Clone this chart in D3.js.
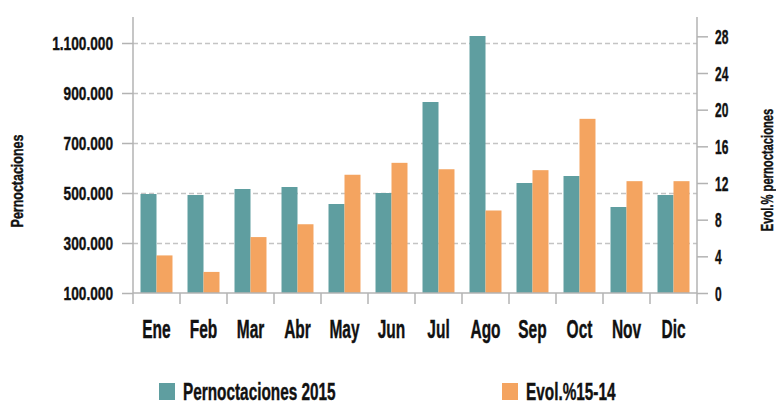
<!DOCTYPE html>
<html>
<head>
<meta charset="utf-8">
<script src="https://cdn.jsdelivr.net/npm/d3@7"></script>
<style>
  body { margin: 0; background: #fff; }
  svg text { font-family: "Liberation Sans", sans-serif; font-weight: bold; fill: #111; stroke: #111; stroke-width: 0.4px; }
</style>
</head>
<body>
<div id="chart"></div>
<script>
const months = ['Ene', 'Feb', 'Mar', 'Abr', 'May', 'Jun', 'Jul', 'Ago', 'Sep', 'Oct', 'Nov', 'Dic'];
const pernoctaciones = [496000, 492000, 516000, 524000, 456000, 500000, 864000, 1128000, 540000, 568000, 444000, 492000];
const evolucion = [4.1, 2.3, 6.1, 7.5, 12.9, 14.2, 13.5, 9.0, 13.4, 19.0, 12.2, 12.2];
const leftTicks = [100000, 300000, 500000, 700000, 900000, 1100000];
const rightTicks = [0, 4, 8, 12, 16, 20, 24, 28];
const seriesNames = ['Pernoctaciones 2015', 'Evol.%15-14'];

const width = 776
    , height = 403
    , margin = {left: 133, right: 79, top: 18, bottom: 110}
    , tealColor = '#5f9ea0'
    , orangeColor = '#f4a460'
    , axisColor = '#b3b3b3'
    , gridColor = '#c4c4c4'
    , tickLen = 11
    ;

const svg = d3.select('#chart')
  .append('svg')
  .attr('width', width)
  .attr('height', height);

const plotW = width - margin.left - margin.right
    , plotH = height - margin.top - margin.bottom
    , bottom = margin.top + plotH
    ;

const x = d3.scaleBand()
  .domain(months)
  .range([margin.left, margin.left + plotW])
  .padding(0);

const xs = d3.scaleBand()
  .domain(['p', 'e'])
  .range([0, x.bandwidth()])
  .paddingInner(0)
  .paddingOuter(0.47);

const yL = d3.scaleLinear().domain([100000, 1200000]).range([bottom, margin.top]);
const yR = d3.scaleLinear().domain([0, 30]).range([bottom, margin.top]);

const fmt = d => d3.format(',')(d).replace(/,/g, '.');

// condensed look: no narrow face installed, so squash horizontally
function squeeze(sel, sx) {
  sel.each(function() {
    const t = d3.select(this);
    const tx = +t.attr('x') || 0, ty = +t.attr('y') || 0;
    t.attr('x', null).attr('y', null)
      .attr('transform', `translate(${tx},${ty}) scale(${sx},1)`);
  });
}

// grid
svg.append('g')
  .selectAll('line')
  .data(leftTicks.slice(1))
  .join('line')
    .attr('x1', margin.left)
    .attr('x2', margin.left + plotW)
    .attr('y1', d => Math.round(yL(d)) + 0.5)
    .attr('y2', d => Math.round(yL(d)) + 0.5)
    .attr('stroke', gridColor)
    .attr('stroke-width', 1.5)
    .attr('stroke-dasharray', '5,3');

// bars
const groups = svg.append('g')
  .selectAll('g')
  .data(months)
  .join('g')
    .attr('transform', d => `translate(${x(d)},0)`);

groups.append('rect')
  .attr('x', xs('p'))
  .attr('width', xs.bandwidth())
  .attr('y', (d, i) => yL(pernoctaciones[i]))
  .attr('height', (d, i) => bottom - yL(pernoctaciones[i]))
  .attr('fill', tealColor);

groups.append('rect')
  .attr('x', xs('e'))
  .attr('width', xs.bandwidth())
  .attr('y', (d, i) => yR(evolucion[i]))
  .attr('height', (d, i) => bottom - yR(evolucion[i]))
  .attr('fill', orangeColor);

// left axis
const gL = svg.append('g')
  .attr('transform', `translate(${margin.left},0)`)
  .call(d3.axisLeft(yL).tickValues(leftTicks).tickFormat(fmt).tickSize(tickLen).tickSizeOuter(0));
gL.select('.domain').remove();
gL.selectAll('.tick line').attr('stroke', axisColor).attr('stroke-width', 1.5);
gL.selectAll('.tick text')
  .attr('x', -20).attr('dy', '0.36em')
  .style('font-size', '19px')
  .call(squeeze, 0.72);

// right axis
const gR = svg.append('g')
  .attr('transform', `translate(${margin.left + plotW},0)`)
  .call(d3.axisRight(yR).tickValues(rightTicks).tickSize(tickLen).tickSizeOuter(0));
gR.select('.domain').remove();
gR.selectAll('.tick line').attr('stroke', axisColor).attr('stroke-width', 1.5);
gR.selectAll('.tick text')
  .attr('x', 18).attr('dy', '0.36em')
  .style('font-size', '20px')
  .call(squeeze, 0.6);

// axis lines
[margin.left, margin.left + plotW].forEach(px => {
  svg.append('line')
    .attr('x1', px).attr('x2', px)
    .attr('y1', margin.top - 1).attr('y2', bottom + tickLen)
    .attr('stroke', axisColor).attr('stroke-width', 1.5);
});

// bottom axis line + boundary ticks
svg.append('line')
  .attr('x1', margin.left).attr('x2', margin.left + plotW)
  .attr('y1', bottom).attr('y2', bottom)
  .attr('stroke', axisColor).attr('stroke-width', 1.5);

svg.append('g')
  .selectAll('line')
  .data(months.slice(1))
  .join('line')
    .attr('x1', d => x(d)).attr('x2', d => x(d))
    .attr('y1', bottom).attr('y2', bottom + tickLen)
    .attr('stroke', axisColor).attr('stroke-width', 1.5);

// month labels
svg.append('g')
  .selectAll('text')
  .data(months)
  .join('text')
    .attr('x', d => x(d) + x.bandwidth() / 2)
    .attr('y', 338)
    .attr('text-anchor', 'middle')
    .style('font-size', '25px')
    .text(d => d)
    .call(squeeze, 0.62);

// axis titles
svg.append('text')
  .attr('transform', 'translate(23,181) rotate(-90) scale(0.78,1)')
  .attr('text-anchor', 'middle')
  .style('font-size', '16px')
  .text('Pernoctaciones');

svg.append('text')
  .attr('transform', 'translate(773,170) rotate(-90) scale(0.7,1)')
  .attr('text-anchor', 'middle')
  .style('font-size', '16px')
  .text('Evol.% pernoctaciones');

// legend
const legend = svg.append('g')
  .selectAll('g')
  .data(seriesNames)
  .join('g')
    .attr('transform', (d, i) => `translate(${[159, 502][i]},383)`);

legend.append('rect')
  .attr('width', 16).attr('height', 17)
  .attr('fill', (d, i) => [tealColor, orangeColor][i]);

legend.append('text')
  .attr('x', 24)
  .attr('y', 16.5)
  .style('font-size', '24px')
  .text(d => d)
  .call(squeeze, 0.64);
</script>
</body>
</html>
